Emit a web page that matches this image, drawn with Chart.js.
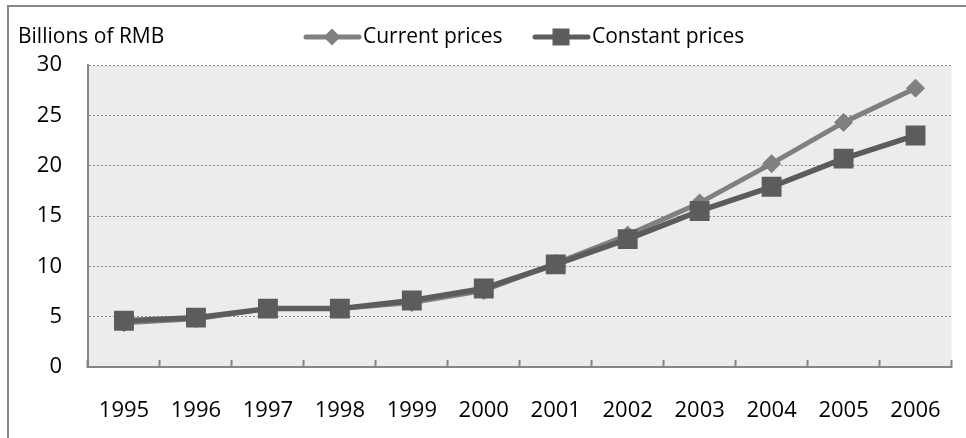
<!DOCTYPE html>
<html>
<head>
<meta charset="utf-8">
<title>Billions of RMB</title>
<script src="https://cdn.jsdelivr.net/npm/chart.js@4.4.0/dist/chart.umd.min.js"></script>
<style>
  html, body { margin: 0; padding: 0; background: #ffffff; }
  canvas { display: block; }
</style>
</head>
<body>
<canvas id="chart" width="966" height="438"></canvas>
<script>
(function () {
  "use strict";

  const years = ["1995", "1996", "1997", "1998", "1999", "2000",
                 "2001", "2002", "2003", "2004", "2005", "2006"];
  const currentPrices = [4.4, 4.8, 5.8, 5.8, 6.4, 7.6, 10.3, 13.1, 16.3, 20.2, 24.3, 27.7];
  const constantPrices = [4.6, 4.9, 5.8, 5.8, 6.6, 7.8, 10.2, 12.7, 15.5, 17.9, 20.7, 23.0];
  const yTicks = [0, 5, 10, 15, 20, 25, 30];
  const unitLabel = "Billions of RMB";
  const seriesNames = ["Current prices", "Constant prices"];

  const FONT = "'Open Sans', sans-serif";
  const TEXT_SIZE = 21;
  const TICK_SIZE = 22;
  const AXIS_GREY = "#868686";
  const LEGEND_X = [303, 532];

  Chart.defaults.font.family = FONT;
  Chart.defaults.font.size = TICK_SIZE;
  Chart.defaults.color = "#000000";

  function drawMarker(ctx, style, x, y, r) {
    ctx.beginPath();
    if (style === "rectRot") {
      ctx.moveTo(x - r, y);
      ctx.lineTo(x, y - r);
      ctx.lineTo(x + r, y);
      ctx.lineTo(x, y + r);
    } else {
      ctx.rect(x - r, y - r, 2 * r, 2 * r);
    }
    ctx.closePath();
    ctx.fill();
  }

  // white page, outer frame and the grey plot background
  const framePlugin = {
    id: "frame",
    beforeDraw(chart) {
      const ctx = chart.ctx;
      const area = chart.chartArea;
      ctx.save();
      ctx.fillStyle = "#ffffff";
      ctx.fillRect(0, 0, chart.width, chart.height);
      ctx.strokeStyle = "#878787";
      ctx.lineWidth = 2;
      ctx.beginPath();
      ctx.moveTo(8, chart.height);
      ctx.lineTo(8, 6);
      ctx.lineTo(chart.width, 6);
      ctx.stroke();
      ctx.fillStyle = "#ececec";
      ctx.fillRect(area.left, area.top, area.right - area.left, area.bottom - area.top);
      ctx.restore();
    },
  };

  // unit label and an Excel-like legend (line with marker) on one row
  const headerPlugin = {
    id: "header",
    afterDraw(chart) {
      const ctx = chart.ctx;
      const y = 37;
      ctx.save();
      ctx.font = TEXT_SIZE + "px " + FONT;
      ctx.textBaseline = "middle";
      ctx.textAlign = "left";
      ctx.fillStyle = "#000000";
      ctx.fillText(unitLabel, 18, y);

      chart.data.datasets.forEach(function (ds, i) {
        const x = LEGEND_X[i];
        ctx.strokeStyle = ds.borderColor;
        ctx.lineWidth = 5;
        ctx.lineCap = "round";
        ctx.beginPath();
        ctx.moveTo(x + 3, y);
        ctx.lineTo(x + 56, y);
        ctx.stroke();
        ctx.fillStyle = ds.pointBackgroundColor;
        drawMarker(ctx, ds.pointStyle, x + 29, y, ds.pointStyle === "rect" ? 8.5 : 8.5);
        ctx.fillStyle = "#000000";
        ctx.fillText(ds.label, x + 60, y);
      });
      ctx.restore();
    },
  };

  const canvas = document.getElementById("chart");

  new Chart(canvas, {
    type: "line",
    data: {
      labels: years,
      datasets: [
        {
          label: seriesNames[0],
          data: currentPrices,
          order: 1,
          borderColor: "#808080",
          backgroundColor: "#808080",
          borderWidth: 5,
          borderJoinStyle: "round",
          borderCapStyle: "round",
          pointStyle: "rectRot",
          pointRadius: 9,
          pointBorderWidth: 1,
          pointBackgroundColor: "#808080",
          pointBorderColor: "#808080",
          tension: 0,
        },
        {
          label: seriesNames[1],
          data: constantPrices,
          order: 0,
          borderColor: "#5c5c5c",
          backgroundColor: "#5c5c5c",
          borderWidth: 5.5,
          borderJoinStyle: "round",
          borderCapStyle: "round",
          pointStyle: "rect",
          pointRadius: 13,
          pointBorderWidth: 1.5,
          pointBackgroundColor: "#5c5c5c",
          pointBorderColor: "#5c5c5c",
          tension: 0,
        },
      ],
    },
    options: {
      responsive: false,
      animation: false,
      events: [],
      layout: {
        padding: { top: 65, left: 8, right: 14, bottom: 0 },
      },
      plugins: {
        legend: { display: false },
        title: { display: false },
        tooltip: { enabled: false },
      },
      scales: {
        x: {
          type: "category",
          offset: true,
          grid: {
            display: true,
            offset: true,
            drawOnChartArea: false,
            drawTicks: true,
            tickLength: -7,
            tickColor: AXIS_GREY,
            tickWidth: 2,
          },
          border: { display: true, color: AXIS_GREY, width: 2 },
          ticks: {
            padding: 38,
            maxRotation: 0,
            autoSkip: false,
          },
          afterFit: function (scale) {
            scale.height = 71;
            scale.paddingLeft = 0;
            scale.paddingRight = 0;
          },
        },
        y: {
          min: yTicks[0],
          max: yTicks[yTicks.length - 1],
          ticks: {
            stepSize: yTicks[1] - yTicks[0],
            padding: 26,
          },
          grid: {
            color: "#8c8c8c",
            lineWidth: 1,
            drawTicks: false,
          },
          border: { display: true, color: AXIS_GREY, width: 2, dash: [2, 2] },
          afterFit: function (scale) {
            scale.width = 80;
          },
        },
      },
    },
    plugins: [framePlugin, headerPlugin],
  });
})();
</script>
</body>
</html>
